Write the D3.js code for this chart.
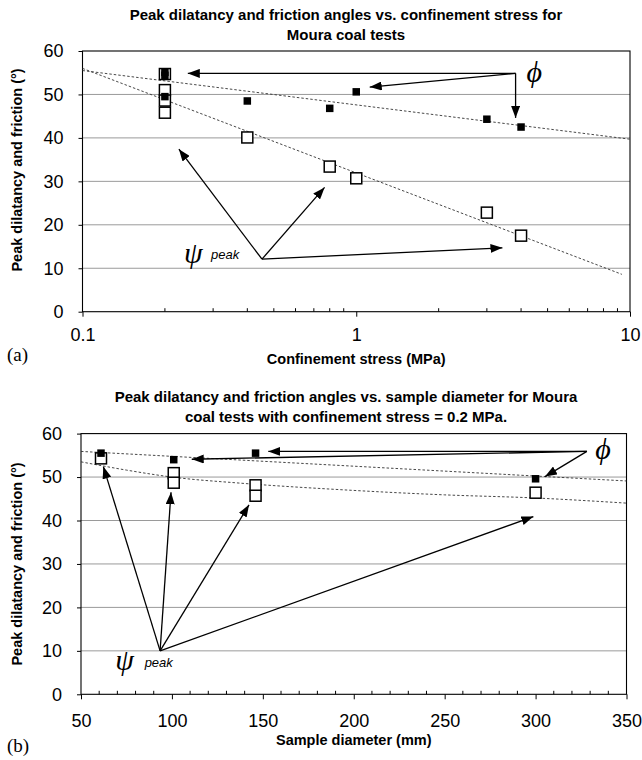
<!DOCTYPE html>
<html lang="en">
<head>
<meta charset="utf-8">
<title>Peak dilatancy and friction angles - Moura coal tests</title>
<script src="https://d3js.org/d3.v7.min.js"></script>
<style>
  body { margin: 0; background: #fff; }
  svg { display: block; }
  .tick text { font-family: "Liberation Sans", Arial, sans-serif; font-size: 18px; fill: #000; }
  .title, .axis-title { font-family: "Liberation Sans", Arial, sans-serif; font-weight: bold; fill: #000; }
  .greek { font-family: "Liberation Serif", "DejaVu Serif", serif; font-style: italic; }
</style>
</head>
<body>
<div id="chart"></div>
<script>
const width = 642;
const height = 760;

// ---- panel (a): angles vs confinement stress (MPa, log axis) ----
const stressPhiX = [0.2, 0.2, 0.2, 0.4, 0.8, 1, 3, 4];
const stressPhiY = [55.1, 54.4, 49.5, 48.5, 46.8, 50.6, 44.3, 42.5];
const stressPsiX = [0.2, 0.2, 0.2, 0.2, 0.4, 0.8, 1, 3, 4];
const stressPsiY = [54.7, 51.0, 48.6, 45.8, 40.1, 33.4, 30.7, 22.8, 17.5];
const stressPhiTrendX = [0.1, 10];
const stressPhiTrendY = [55.5, 39.7];
const stressPsiTrendX = [0.1, 9.34];
const stressPsiTrendY = [56.0, 8.6];
const stressTicks = [0.1, 1, 10];
const stressTickLabels = ["0.1", "1", "10"];

// ---- panel (b): angles vs sample diameter (mm) ----
const diamPhiX = [61, 101, 146, 300];
const diamPhiY = [55.5, 54.0, 55.5, 49.6];
const diamPsiX = [61, 101, 101, 146, 146, 300];
const diamPsiY = [54.3, 50.9, 48.7, 48.1, 45.7, 46.4];
const diamPhiTrendX = [50, 350];
const diamPhiTrendY = [55.9, 49.1];
const diamPsiTrendX = [50, 75, 100, 137.5, 192.5, 250, 299, 350];
const diamPsiTrendY = [53.5, 51.6, 50.0, 48.6, 47.1, 45.9, 45.2, 44.0];
const diamTicks = [50, 100, 150, 200, 250, 300, 350];

const angleTicks = [0, 10, 20, 30, 40, 50, 60];

const svg = d3.select("#chart").append("svg")
    .attr("width", width)
    .attr("height", height);

const defs = svg.append("defs");
defs.append("marker")
    .attr("id", "head")
    .attr("viewBox", "0 0 12 9")
    .attr("refX", 12).attr("refY", 4.5)
    .attr("markerWidth", 12).attr("markerHeight", 9)
    .attr("markerUnits", "userSpaceOnUse")
    .attr("orient", "auto")
  .append("path")
    .attr("d", "M0,0L12,4.5L0,9Z")
    .attr("fill", "#000");

function panel(cfg) {
  const x = cfg.x, y = cfg.y;
  const g = svg.append("g");
  const [x0, x1] = x.range();
  const [y0, y1] = y.range();

  // title
  cfg.title.forEach((t, i) => {
    g.append("text").attr("class", "title")
      .attr("x", 346).attr("y", cfg.titleY + i * 20)
      .attr("text-anchor", "middle")
      .style("font-size", "15px")
      .text(t);
  });

  // gridlines
  g.selectAll("line.grid")
    .data(angleTicks.filter(d => d > 0 && d < 60))
    .join("line")
      .attr("class", "grid")
      .attr("x1", x0).attr("x2", x1)
      .attr("y1", d => y(d)).attr("y2", d => y(d))
      .attr("stroke", "#9a9a9a")
      .attr("stroke-width", 1);

  // y axis
  const ya = g.append("g")
      .attr("transform", `translate(${x0},0)`)
      .call(d3.axisLeft(y).tickValues(angleTicks).tickSize(4).tickPadding(15));
  ya.select(".domain").remove();
  ya.selectAll(".tick line").attr("stroke", "#000");

  // x axis
  const xa = g.append("g")
      .attr("transform", `translate(0,${y0})`)
      .call(d3.axisBottom(x).tickValues(cfg.ticks).tickSize(5)
        .tickPadding(cfg.tickPad).tickFormat((d, i) => cfg.tickLabels[i]));
  xa.select(".domain").remove();
  xa.selectAll(".tick line").attr("stroke", "#000");

  // minor ticks pointing up into the plot
  g.selectAll("line.minor")
    .data(cfg.minor)
    .join("line")
      .attr("class", "minor")
      .attr("x1", d => x(d)).attr("x2", d => x(d))
      .attr("y1", y0).attr("y2", y0 - 3.5)
      .attr("stroke", "#000");

  // frame
  g.append("rect")
    .attr("x", x0).attr("y", y1)
    .attr("width", x1 - x0).attr("height", y0 - y1)
    .attr("fill", "none").attr("stroke", "#000").attr("stroke-width", 1.1);

  // trend lines
  const trend = d3.line().x(d => x(d[0])).y(d => y(d[1])).curve(d3.curveMonotoneX);
  cfg.trends.forEach(t => {
    g.append("path")
      .datum(d3.zip(t[0], t[1]))
      .attr("d", trend)
      .attr("fill", "none")
      .attr("stroke", "#333")
      .attr("stroke-width", 0.9)
      .attr("stroke-dasharray", "2.5,2");
  });

  // psi (open squares) then phi (filled squares)
  const os = 11, fs = 7.5;
  g.selectAll("rect.psi")
    .data(d3.zip(cfg.psiX, cfg.psiY))
    .join("rect")
      .attr("class", "psi")
      .attr("x", d => x(d[0]) - os / 2).attr("y", d => y(d[1]) - os / 2)
      .attr("width", os).attr("height", os)
      .attr("fill", "#fff").attr("stroke", "#000").attr("stroke-width", 1.5);
  g.selectAll("rect.phi")
    .data(d3.zip(cfg.phiX, cfg.phiY))
    .join("rect")
      .attr("class", "phi")
      .attr("x", d => x(d[0]) - fs / 2).attr("y", d => y(d[1]) - fs / 2)
      .attr("width", fs).attr("height", fs)
      .attr("fill", "#000");

  // annotation arrows
  cfg.arrows.forEach(a => {
    a.tips.forEach(tp => {
      g.append("line")
        .attr("x1", x(a.from[0])).attr("y1", y(a.from[1]))
        .attr("x2", x(tp[0])).attr("y2", y(tp[1]))
        .attr("stroke", "#000").attr("stroke-width", 1.3)
        .attr("marker-end", "url(#head)");
    });
  });

  // greek labels
  g.append("text").attr("class", "greek")
    .attr("x", x(cfg.phiLabel[0])).attr("y", y(cfg.phiLabel[1]))
    .attr("text-anchor", "middle")
    .style("font-size", "30px")
    .text("\u03D5");
  g.append("text").attr("class", "greek")
    .attr("x", x(cfg.psiLabel[0])).attr("y", y(cfg.psiLabel[1]))
    .attr("text-anchor", "middle")
    .style("font-size", "30px")
    .text("\u03C8");
  g.append("text")
    .attr("x", x(cfg.peakLabel[0])).attr("y", y(cfg.peakLabel[1]))
    .style("font-family", "'Liberation Sans', Arial, sans-serif")
    .style("font-style", "italic")
    .style("font-size", "13px")
    .text("peak");

  // axis titles
  g.append("text").attr("class", "axis-title")
    .attr("x", (x0 + x1) / 2).attr("y", cfg.xTitleY)
    .attr("text-anchor", "middle")
    .style("font-size", "14.5px")
    .text(cfg.xTitle);
  g.append("text").attr("class", "axis-title")
    .attr("transform", `translate(22,${cfg.yTitleMid}) rotate(-90)`)
    .attr("text-anchor", "middle")
    .style("font-size", "14.5px")
    .text("Peak dilatancy and friction (\u00B0)");

  // panel letter
  g.append("text")
    .attr("x", 7).attr("y", cfg.letterY)
    .style("font-family", "'Liberation Serif', 'Times New Roman', serif")
    .style("font-size", "19px")
    .text(cfg.letter);
}

const xStress = d3.scaleLog().domain([0.1, 10]).range([82.5, 630]);
const yTop = d3.scaleLinear().domain([0, 60]).range([311.7, 51]);

panel({
  x: xStress, y: yTop,
  title: ["Peak dilatancy and friction angles vs. confinement stress for", "Moura coal tests"],
  titleY: 20,
  ticks: stressTicks, tickLabels: stressTickLabels, tickPad: 12,
  minor: xStress.ticks().filter(d => !stressTicks.includes(d)),
  trends: [[stressPhiTrendX, stressPhiTrendY], [stressPsiTrendX, stressPsiTrendY]],
  phiX: stressPhiX, phiY: stressPhiY, psiX: stressPsiX, psiY: stressPsiY,
  arrows: [
    { from: [3.82, 54.85], tips: [[0.2425, 54.85], [1.12, 51.7], [3.82, 44.6]] },
    { from: [0.4525, 12.1], tips: [[0.225, 37.4], [0.766, 28.6], [3.42, 14.7]] }
  ],
  phiLabel: [4.47, 52.8],
  psiLabel: [0.254, 11.3],
  peakLabel: [0.2950, 12.06],
  xTitle: "Confinement stress (MPa)", xTitleY: 364,
  yTitleMid: 170,
  letter: "(a)", letterY: 361
});

const xDiam = d3.scaleLinear().domain([50, 350]).range([81, 626.5]);
const yBot = d3.scaleLinear().domain([0, 60]).range([694.3, 433.6]);

panel({
  x: xDiam, y: yBot,
  title: ["Peak dilatancy and friction angles vs. sample diameter for Moura", "coal tests with confinement stress = 0.2 MPa."],
  titleY: 402,
  ticks: diamTicks, tickLabels: diamTicks.map(String), tickPad: 15,
  minor: xDiam.ticks(30).filter(d => d % 50 !== 0),
  trends: [[diamPhiTrendX, diamPhiTrendY], [diamPsiTrendX, diamPsiTrendY]],
  phiX: diamPhiX, phiY: diamPhiY, psiX: diamPsiX, psiY: diamPsiY,
  arrows: [
    { from: [328.2, 55.9], tips: [[153, 55.9], [110.9, 54.1], [305.2, 50.1]] },
    { from: [93.5, 10.0], tips: [[62.3, 52.4], [99.5, 46.5], [142.4, 43.6], [298.8, 40.9]] }
  ],
  phiLabel: [337.1, 54.2],
  psiLabel: [73.9, 5.5],
  peakLabel: [85, 6.35],
  xTitle: "Sample diameter (mm)", xTitleY: 745,
  yTitleMid: 564,
  letter: "(b)", letterY: 752
});
</script>
</body>
</html>
